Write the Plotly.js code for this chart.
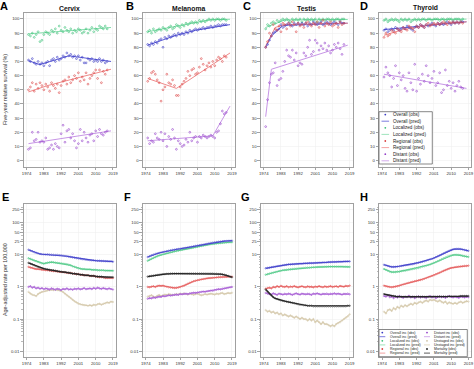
<!DOCTYPE html>
<html><head><meta charset="utf-8">
<script src="https://cdn.plot.ly/plotly-3.0.1.min.js"></script>
<style>html,body{margin:0;padding:0;background:#fff}#chart{width:474px;height:369px}</style>
</head><body><div id="chart"></div>
<script>
const W = 474, H = 369;
function yearRange(a, b) { const r = []; for (let y = a; y <= b; y++) r.push(y); return r; }
const YEARS_SURV = yearRange(1975, 2016);
const YEARS_INC = yearRange(1975, 2019);

const PANEL_TITLES = ['Cervix', 'Melanoma', 'Testis', 'Thyroid'];
const PANEL_LETTERS = ['A', 'B', 'C', 'D', 'E', 'F', 'G', 'H'];
const X_TICKS = [1974, 1983, 1992, 2001, 2010, 2019];
const SURV_TICKS = [0, 10, 20, 30, 40, 50, 60, 70, 80, 90, 100];
const INC_TICKS = [0.01, 0.1, 1, 10, 25, 50, 100, 250];
const INC_TICK_TEXT = ['0.01', '0.1', '1', '10', '25', '50', '100', '250'];
const INC_MINOR = [0.02,0.03,0.04,0.05,0.06,0.07,0.08,0.09,0.2,0.3,0.4,0.5,0.6,0.7,0.8,0.9,2,3,4,5,6,7,8,9,20,30,40,60,70,80,90,200,300];

// ---------- Five-year relative survival (obs 1975-2016) ----------
const cervixLocObs = [89,88,90,87,89,91,84,85,89,91,90,89,92,91,93,90,95,92,91,94,92,91,93,90,92,91,93,92,90,91,93,90,92,94,91,93,92,95,94,93,95,93];
const cervixAllObs = [71,70,72,69,68,70,68,69,67,69,70,67,71,72,70,73,71,72,74,73,76,74,75,73,74,72,74,71,73,69,69,72,71,72,70,71,70,72,70,71,69,70];
const cervixRegObs = [50,52,55,49,54,51,55,53,50,54,52,49,55,53,51,54,48,53,56,57,54,59,55,57,60,58,62,56,59,57,62,54,58,60,62,64,58,64,55,63,61,64];
const cervixDisObs = [8,9,20,14,15,20,13,14,13,16,8,9,11,8,12,10,9,19,25,13,21,22,16,19,14,9,12,22,14,20,16,13,18,19,14,21,17,22,19,18,20,21];
const cervixLocPredX = [1975, 2018], cervixLocPredY = [89.5, 94];
const cervixAllPredX = [1975, 1981, 1996, 2018], cervixAllPredY = [70.5, 67.8, 74, 70];
const cervixRegPredX = [1975, 1985, 2018], cervixRegPredY = [48.5, 53, 64.5];
const cervixDisPredX = [1975, 2018], cervixDisPredY = [12, 21];

const melLocObs = [91,92,90,93,91,92,93,92,94,93,92,94,95,93,94,96,95,94,96,95,97,96,97,98,97,98,97,99,98,99,98,99,100,99,100,99,100,100,99,100,100,99];
const melAllObs = [82,81,83,82,84,83,85,86,80,87,86,88,87,88,89,88,90,89,90,89,91,90,92,91,92,93,92,93,93,94,93,94,94,95,94,95,95,96,95,96,96,96];
const melRegObs = [56,58,62,63,61,57,55,42,50,52,61,55,54,57,53,46,46,52,54,56,58,63,60,64,65,61,62,66,72,68,64,67,69,66,70,67,71,73,72,70,74,73];
const melDisObs = [16,12,14,13,19,16,15,20,14,19,10,17,15,22,16,8,14,12,10,11,15,13,20,14,16,17,13,17,16,18,17,16,17,18,17,16,20,21,26,35,33,34];
const melLocPredX = [1975, 2008, 2018], melLocPredY = [91, 99.5, 99.8];
const melAllPredX = [1975, 1990, 2000, 2018], melAllPredY = [81.5, 88.5, 92, 96];
const melRegPredX = [1975, 1990, 2018], melRegPredY = [58, 51, 76];
const melDisPredX = [1975, 2009, 2018], melDisPredY = [14, 17.5, 38.5];

const testLocObs = [93,96,95,97,98,97,99,98,99,100,99,100,99,98,100,99,100,99,100,98,100,99,100,99,100,99,100,98,100,99,100,99,100,100,99,100,99,100,100,99,100,100];
const testAllObs = [80,82,85,88,90,91,92,93,96,94,95,96,97,96,95,97,96,97,96,97,96,97,95,97,96,98,97,96,97,98,96,97,98,97,96,97,98,97,96,98,97,97];
const testRegObs = [80,84,90,88,96,93,92,95,91,97,96,93,97,95,98,96,91,97,95,96,94,97,98,96,95,97,96,98,94,97,99,95,97,96,98,95,96,97,94,98,96,97];
const testDisObs = [24,43,55,61,62,69,53,57,58,63,70,78,74,73,78,71,76,67,69,68,76,74,80,85,75,77,85,83,78,81,79,83,78,81,76,78,82,80,83,79,75,82];
const testLocPredX = [1975, 1985, 2018], testLocPredY = [94, 99.3, 99.6];
const testAllPredX = [1975, 1978, 1984, 2018], testAllPredY = [80, 88, 95.5, 97];
const testRegPredX = [1975, 1980, 1985, 2018], testRegPredY = [81, 94, 96, 97];
const testDisPredX = [1975, 1978, 2018], testDisPredY = [31, 64.5, 81.5];

const thyLocObs = [99,100,98,99,100,99,100,99,98,100,99,100,99,100,98,99,100,99,100,99,100,100,99,100,100,99,100,100,100,99,100,100,99,100,100,100,99,100,100,100,99,100];
const thyAllObs = [92,93,91,92,93,92,94,93,92,93,94,93,95,94,93,92,94,95,94,96,95,94,96,95,96,97,96,95,97,96,97,96,97,98,97,96,98,97,98,97,98,98];
const thyRegObs = [87,90,88,89,92,91,90,93,92,91,94,93,92,95,94,93,91,95,94,96,95,94,96,97,95,96,97,96,97,96,97,98,97,96,98,97,98,97,98,97,98,97];
const thyDisObs = [59,66,62,60,52,58,67,53,62,57,60,51,49,62,55,50,68,49,58,54,61,56,67,60,55,58,63,53,55,62,48,50,64,53,56,51,55,49,53,56,52,51];
const thyLocPredX = [1975, 2018], thyLocPredY = [99.2, 99.9];
const thyAllPredX = [1975, 2018], thyAllPredY = [92.5, 98];
const thyRegPredX = [1975, 1985, 2000, 2018], thyRegPredY = [88.5, 92.5, 96, 98];
const thyDisPredX = [1975, 2018], thyDisPredY = [61, 51];

// ---------- Age-adjusted rate per 100,000 (1975-2019) ----------
const cervixIncAll = [14.3,13.5,12.8,12.0,11.5,11.0,10.6,10.4,10.3,10.2,10.3,10.1,10.0,9.9,9.8,9.9,9.7,9.6,9.4,9.2,9.0,8.8,8.6,8.3,8.1,7.9,7.7,7.5,7.3,7.2,7.0,6.9,6.8,6.7,6.7,6.6,6.5,6.5,6.4,6.4,6.3,6.3,6.2,6.2,6.1];
const cervixIncLoc = [7.8,7.4,7.0,6.6,6.3,6.0,5.7,5.4,5.3,5.5,5.7,5.8,5.9,5.8,5.7,5.6,5.5,5.4,5.3,5.2,5.1,4.9,4.7,4.4,4.2,4.0,3.8,3.7,3.6,3.6,3.5,3.5,3.5,3.4,3.4,3.4,3.3,3.3,3.3,3.3,3.2,3.2,3.2,3.2,3.2];
const cervixMort = [5.6,5.3,5.0,4.7,4.4,4.2,4.0,3.8,3.7,3.6,3.5,3.4,3.3,3.3,3.2,3.1,3.0,3.0,2.9,2.9,2.8,2.8,2.7,2.6,2.6,2.5,2.5,2.4,2.4,2.3,2.3,2.3,2.2,2.2,2.2,2.1,2.1,2.1,2.1,2.0,2.0,2.0,2.0,2.0,2.0];
const cervixIncReg = [4.2,4.0,3.9,3.7,3.6,3.6,3.5,3.4,3.4,3.3,3.3,3.2,3.2,3.1,3.1,3.0,3.0,2.9,2.9,2.8,2.8,2.7,2.7,2.6,2.6,2.5,2.5,2.4,2.4,2.3,2.3,2.3,2.2,2.2,2.2,2.1,2.1,2.0,2.0,2.0,1.9,1.9,1.9,1.9,1.9];
const cervixIncDis = [1.0,1.05,0.95,1.0,0.9,0.95,0.88,0.92,0.85,0.9,0.87,0.83,0.9,0.86,0.82,0.88,0.85,0.8,0.87,0.84,0.9,0.83,0.86,0.82,0.88,0.85,0.9,0.84,0.87,0.92,0.85,0.88,0.9,0.86,0.93,0.88,0.95,0.9,0.87,0.92,0.88,0.85,0.9,0.86,0.83];
const cervixIncUns = [0.7,0.62,0.57,0.55,0.52,0.6,0.66,0.7,0.72,0.75,0.78,0.8,0.82,0.8,0.83,0.8,0.78,0.75,0.7,0.62,0.55,0.5,0.45,0.4,0.36,0.33,0.3,0.29,0.28,0.27,0.27,0.26,0.27,0.26,0.28,0.27,0.29,0.3,0.28,0.3,0.31,0.33,0.32,0.35,0.34];

const melIncAll = [8.5,9.0,9.6,10.1,10.6,11.0,11.4,11.8,12.2,12.6,13.0,13.4,13.8,14.1,14.4,14.8,15.1,15.4,15.8,16.1,16.5,16.9,17.3,17.8,18.3,18.8,19.3,19.8,20.3,20.8,21.4,22.0,22.6,23.2,23.8,24.3,24.8,25.3,25.7,26.1,26.5,26.8,27.1,27.3,27.5];
const melIncLoc = [6.5,7.0,7.5,8.0,8.5,9.0,9.5,9.9,10.3,10.7,11.1,11.5,11.9,12.3,12.7,13.1,13.5,13.9,14.3,14.7,15.1,15.5,15.9,16.3,16.8,17.3,17.8,18.3,18.8,19.3,19.8,20.3,20.8,21.3,21.7,22.1,22.5,22.9,23.3,23.6,23.9,24.1,24.3,24.5,24.6];
const melMort = [2.1,2.15,2.2,2.25,2.3,2.35,2.4,2.45,2.5,2.5,2.55,2.55,2.6,2.6,2.6,2.6,2.6,2.6,2.6,2.6,2.6,2.6,2.6,2.6,2.6,2.6,2.6,2.6,2.6,2.6,2.6,2.6,2.6,2.6,2.6,2.55,2.55,2.5,2.5,2.45,2.4,2.3,2.2,2.1,2.0];
const melIncReg = [1.0,0.98,1.02,1.05,1.0,1.07,1.1,1.08,1.1,1.05,1.02,0.98,0.96,0.94,0.93,0.94,0.96,1.0,1.05,1.1,1.18,1.26,1.34,1.42,1.5,1.56,1.62,1.67,1.72,1.76,1.8,1.84,1.88,1.9,1.93,1.95,1.97,2.0,2.02,2.04,2.05,2.06,2.08,2.1,2.1];
const melIncDis = [0.43,0.45,0.44,0.47,0.46,0.48,0.5,0.49,0.52,0.51,0.53,0.55,0.54,0.56,0.57,0.58,0.57,0.6,0.59,0.61,0.62,0.6,0.63,0.64,0.66,0.65,0.67,0.68,0.7,0.72,0.71,0.73,0.75,0.77,0.76,0.8,0.82,0.85,0.84,0.88,0.9,0.92,0.95,0.97,1.0];
const melIncUns = [0.5,0.52,0.55,0.5,0.48,0.53,0.56,0.52,0.55,0.58,0.56,0.6,0.58,0.55,0.57,0.6,0.58,0.62,0.6,0.63,0.6,0.58,0.62,0.6,0.57,0.6,0.62,0.58,0.55,0.57,0.6,0.58,0.6,0.62,0.6,0.58,0.62,0.6,0.63,0.65,0.6,0.62,0.65,0.63,0.66];

const testIncAll = [3.8,3.9,4.0,4.1,4.2,4.3,4.4,4.5,4.6,4.7,4.8,4.9,5.0,5.0,5.1,5.1,5.2,5.2,5.3,5.3,5.4,5.4,5.4,5.5,5.5,5.5,5.6,5.6,5.7,5.7,5.8,5.8,5.8,5.9,5.9,6.0,6.0,6.0,6.1,6.1,6.1,6.2,6.2,6.2,6.2];
const testIncLoc = [2.4,2.5,2.6,2.7,2.8,2.9,3.0,3.1,3.2,3.3,3.35,3.4,3.5,3.55,3.6,3.65,3.7,3.75,3.8,3.85,3.9,3.95,4.0,4.0,4.05,4.1,4.1,4.15,4.2,4.2,4.2,4.25,4.25,4.3,4.3,4.3,4.3,4.3,4.3,4.3,4.3,4.25,4.25,4.2,4.2];
const testIncReg = [0.88,0.92,0.95,0.9,1.0,0.97,1.05,1.0,1.08,1.02,1.0,1.05,0.98,1.03,1.0,1.06,1.0,0.97,1.02,1.05,1.0,0.98,1.04,1.0,1.02,0.97,1.03,1.0,1.05,1.01,0.98,1.04,1.0,1.02,1.06,1.0,1.03,1.05,1.0,1.07,1.04,1.02,1.08,1.05,1.1];
const testIncDis = [0.65,0.62,0.6,0.58,0.63,0.6,0.57,0.62,0.6,0.58,0.61,0.59,0.62,0.6,0.57,0.6,0.63,0.6,0.58,0.62,0.6,0.59,0.61,0.6,0.57,0.62,0.6,0.63,0.6,0.58,0.61,0.6,0.62,0.59,0.61,0.6,0.63,0.6,0.62,0.6,0.58,0.61,0.6,0.62,0.59];
const testMort = [0.83,0.72,0.62,0.54,0.48,0.44,0.42,0.4,0.38,0.37,0.36,0.35,0.34,0.33,0.32,0.31,0.3,0.29,0.28,0.28,0.27,0.27,0.26,0.26,0.26,0.25,0.25,0.25,0.25,0.25,0.25,0.25,0.25,0.25,0.25,0.25,0.25,0.25,0.25,0.25,0.25,0.25,0.25,0.26,0.26];
const testIncUns = [0.19,0.17,0.18,0.16,0.17,0.15,0.16,0.14,0.15,0.13,0.14,0.13,0.12,0.13,0.12,0.11,0.12,0.11,0.1,0.11,0.1,0.1,0.09,0.1,0.09,0.1,0.08,0.09,0.08,0.07,0.08,0.07,0.07,0.065,0.06,0.065,0.06,0.07,0.075,0.08,0.09,0.1,0.11,0.12,0.14];

const thyIncAll = [4.9,4.7,4.5,4.3,4.2,4.2,4.2,4.3,4.4,4.5,4.6,4.7,4.8,4.9,5.0,5.1,5.3,5.5,5.7,5.9,6.1,6.3,6.6,6.9,7.2,7.5,7.9,8.4,8.9,9.5,10.2,11.0,11.8,12.6,13.4,14.1,14.7,15.1,15.3,15.3,15.0,14.6,14.1,13.7,13.3];
const thyIncLoc = [3.6,3.4,3.2,3.0,2.9,2.9,2.9,3.0,3.0,3.1,3.2,3.2,3.3,3.4,3.5,3.6,3.7,3.8,3.9,4.1,4.3,4.4,4.6,4.8,5.0,5.3,5.6,5.9,6.3,6.7,7.2,7.7,8.2,8.7,9.1,9.5,9.8,10.0,10.0,9.9,9.6,9.3,9.0,8.8,8.6];
const thyIncReg = [1.1,1.05,1.02,1.0,0.98,1.0,1.02,1.05,1.1,1.15,1.2,1.25,1.3,1.35,1.4,1.45,1.5,1.55,1.6,1.65,1.7,1.8,1.9,2.0,2.1,2.2,2.3,2.45,2.6,2.75,2.95,3.15,3.35,3.55,3.75,3.9,4.0,4.1,4.2,4.3,4.35,4.4,4.5,4.5,4.6];
const thyIncDis = [0.52,0.5,0.55,0.48,0.5,0.45,0.5,0.47,0.52,0.49,0.46,0.5,0.48,0.53,0.47,0.5,0.45,0.49,0.51,0.47,0.5,0.48,0.46,0.5,0.52,0.47,0.5,0.45,0.49,0.51,0.48,0.5,0.46,0.5,0.52,0.49,0.47,0.5,0.48,0.46,0.5,0.49,0.47,0.5,0.48];
const thyMort = [0.6,0.58,0.56,0.55,0.53,0.52,0.51,0.5,0.5,0.49,0.49,0.49,0.49,0.49,0.49,0.49,0.49,0.49,0.49,0.49,0.49,0.49,0.49,0.49,0.49,0.5,0.5,0.5,0.5,0.5,0.5,0.5,0.5,0.5,0.51,0.51,0.51,0.51,0.51,0.51,0.52,0.52,0.52,0.52,0.52];
const thyIncUns = [0.17,0.15,0.19,0.2,0.18,0.22,0.2,0.24,0.22,0.26,0.24,0.27,0.25,0.28,0.3,0.28,0.32,0.3,0.33,0.35,0.32,0.36,0.38,0.35,0.4,0.38,0.4,0.37,0.35,0.38,0.34,0.32,0.35,0.3,0.33,0.31,0.3,0.32,0.3,0.33,0.35,0.32,0.34,0.36,0.35];

// ---------- styling ----------
const PT = { overall:'#3a3ac4', localized:'#36bf74', regional:'#dc4444', distant:'#9440c9', unstaged:'#cfc2a4', mortality:'#1c1c1c' };
const LN = { overall:'#5a5ad6', localized:'#86ddac', regional:'#f08a8a', distant:'#c795e6', unstaged:'#ded3b9', mortality:'#333' };
const FONT = 'Liberation Sans, Arial, sans-serif';

const COLS = [[23.5,116],[142.7,235],[260.7,352.7],[379,471.5]];
const ROWS = [[13.3,167],[204.3,356.7]];

const SURV = [
  [['localized',cervixLocObs,cervixLocPredX,cervixLocPredY],['overall',cervixAllObs,cervixAllPredX,cervixAllPredY],['regional',cervixRegObs,cervixRegPredX,cervixRegPredY],['distant',cervixDisObs,cervixDisPredX,cervixDisPredY]],
  [['localized',melLocObs,melLocPredX,melLocPredY],['overall',melAllObs,melAllPredX,melAllPredY],['regional',melRegObs,melRegPredX,melRegPredY],['distant',melDisObs,melDisPredX,melDisPredY]],
  [['localized',testLocObs,testLocPredX,testLocPredY],['overall',testAllObs,testAllPredX,testAllPredY],['regional',testRegObs,testRegPredX,testRegPredY],['distant',testDisObs,testDisPredX,testDisPredY]],
  [['localized',thyLocObs,thyLocPredX,thyLocPredY],['overall',thyAllObs,thyAllPredX,thyAllPredY],['regional',thyRegObs,thyRegPredX,thyRegPredY],['distant',thyDisObs,thyDisPredX,thyDisPredY]]
];
const INC = [
  [['unstaged',cervixIncUns],['distant',cervixIncDis],['regional',cervixIncReg],['mortality',cervixMort],['localized',cervixIncLoc],['overall',cervixIncAll]],
  [['unstaged',melIncUns],['distant',melIncDis],['regional',melIncReg],['mortality',melMort],['localized',melIncLoc],['overall',melIncAll]],
  [['unstaged',testIncUns],['distant',testIncDis],['regional',testIncReg],['mortality',testMort],['localized',testIncLoc],['overall',testIncAll]],
  [['unstaged',thyIncUns],['distant',thyIncDis],['regional',thyIncReg],['mortality',thyMort],['localized',thyIncLoc],['overall',thyIncAll]]
];

const traces = [];
function axId(i) { return i === 0 ? '' : String(i + 1); }
SURV.forEach((panel, p) => {
  const a = axId(p);
  panel.forEach(([k, obs, px, py]) => {
    traces.push({ type:'scatter', mode:'lines', x:px, y:py, xaxis:'x'+a, yaxis:'y'+a,
      line:{ color:LN[k], width:1 }, hoverinfo:'skip', showlegend:false });
  });
  panel.forEach(([k, obs]) => {
    traces.push({ type:'scatter', mode:'markers', x:YEARS_SURV.slice(0, obs.length), y:obs, xaxis:'x'+a, yaxis:'y'+a,
      marker:{ color:PT[k], size:1.8, symbol:'circle-open', line:{ color:PT[k], width:0.6 } }, hoverinfo:'skip', showlegend:false });
  });
});
INC.forEach((panel, p) => {
  const a = axId(p + 4);
  panel.forEach(([k, vals]) => {
    traces.push({ type:'scatter', mode:'lines', x:YEARS_INC.slice(0, vals.length), y:vals, xaxis:'x'+a, yaxis:'y'+a,
      line:{ color:LN[k], width:1.2 }, hoverinfo:'skip', showlegend:false });
    traces.push({ type:'scatter', mode:'markers', x:YEARS_INC.slice(0, vals.length), y:vals, xaxis:'x'+a, yaxis:'y'+a,
      marker:{ color:PT[k], size:1.5, symbol:'circle-open', line:{ color:PT[k], width:0.5 } }, hoverinfo:'skip', showlegend:false });
  });
});

const layout = {
  width:W, height:H, margin:{l:0,r:0,t:0,b:0}, paper_bgcolor:'#fff', plot_bgcolor:'#fff',
  font:{ family:FONT, color:'#333', size:4.5 }, showlegend:false,
  annotations:[], shapes:[]
};
const tickFont = { family:FONT, size:4.3, color:'#333' };
for (let i = 0; i < 8; i++) {
  const c = i % 4, r = Math.floor(i / 4), a = axId(i);
  layout['xaxis'+a] = {
    domain:[COLS[c][0]/W, COLS[c][1]/W], anchor:'y'+a, range:[1972.4, 2020.6],
    tickmode:'array', tickvals:X_TICKS, ticktext:X_TICKS.map(String), tickfont:tickFont,
    ticks:'outside', ticklen:2.5, tickwidth:0.6, tickcolor:'#666',
    showline:true, mirror:true, linecolor:'#888', linewidth:0.8,
    showgrid:true, gridcolor:'#f0f0f0', gridwidth:0.6, zeroline:false, fixedrange:true
  };
  const y = {
    domain:[1 - ROWS[r][1]/H, 1 - ROWS[r][0]/H], anchor:'x'+a,
    tickfont:tickFont, ticks:'outside', ticklen:2.5, tickwidth:0.6, tickcolor:'#666',
    showline:true, mirror:true, linecolor:'#888', linewidth:0.8,
    showgrid:true, gridcolor:'#f0f0f0', gridwidth:0.6, zeroline:false, fixedrange:true
  };
  if (r === 0) {
    Object.assign(y, { range:[-4.5, 104], tickmode:'array', tickvals:SURV_TICKS, ticktext:SURV_TICKS.map(String) });
  } else {
    Object.assign(y, { type:'log', range:[-2.17, 2.57], tickmode:'array', tickvals:INC_TICKS, ticktext:INC_TICK_TEXT,
      minor:{ tickmode:'array', tickvals:INC_MINOR, ticks:'outside', ticklen:1.4, tickcolor:'#777', tickwidth:0.5, showgrid:false } });
  }
  layout['yaxis'+a] = y;
}

function pxX(px) { return px / W; }
function pxY(py) { return 1 - py / H; }
function note(text, px, py, size, opts) {
  layout.annotations.push(Object.assign({ text, x:pxX(px), y:pxY(py), xref:'paper', yref:'paper',
    showarrow:false, font:{ family:FONT, size, color:'#111' }, xanchor:'center', yanchor:'middle' }, opts || {}));
}
PANEL_TITLES.forEach((t, i) => note('<b>' + t + '</b>', (COLS[i][0] + COLS[i][1]) / 2, 8, 6.8));
const LETTER_POS = [[4,6],[130,6],[247,6],[364,6],[5,197],[127,197],[245,197],[364,197]];
PANEL_LETTERS.forEach((t, i) => note('<b>' + t + '</b>', LETTER_POS[i][0], LETTER_POS[i][1], 11, { font:{ family:FONT, size:11, color:'#000' } }));
note('Five-year relative survival (%)', 5, 90, 5.4, { textangle:-90, font:{ family:FONT, size:5.4, color:'#333' } });
note('Age-adjusted rate per 100,000', 5, 280, 5.4, { textangle:-90, font:{ family:FONT, size:5.4, color:'#333' } });

// ---------- legends ----------
const LEG_D = [['Overall (obs)','overall','obs'],['Overall (pred)','overall','pred'],['Localized (obs)','localized','obs'],['Localized (pred)','localized','pred'],
  ['Regional (obs)','regional','obs'],['Regional (pred)','regional','pred'],['Distant (obs)','distant','obs'],['Distant (pred)','distant','pred']];
const LEG_H = [['Overall inc (obs)','overall','obs'],['Overall inc (pred)','overall','pred'],['Localized inc (obs)','localized','obs'],['Localized inc (pred)','localized','pred'],
  ['Regional inc (obs)','regional','obs'],['Regional inc (pred)','regional','pred'],['Distant inc (obs)','distant','obs'],['Distant inc (pred)','distant','pred'],
  ['Unstaged inc (obs)','unstaged','obs'],['Unstaged inc (pred)','unstaged','pred'],['Mortality (obs)','mortality','obs'],['Mortality (pred)','mortality','pred']];

function legendBox(x0, y0, x1, y1) {
  layout.shapes.push({ type:'rect', xref:'paper', yref:'paper', x0:pxX(x0), x1:pxX(x1), y0:pxY(y1), y1:pxY(y0),
    line:{ color:'#555', width:0.7 }, fillcolor:'#fff', layer:'above' });
}
function legendItem(item, sx, py, tx, fs, half) {
  const [label, k, kind] = item;
  if (kind === 'obs') {
    const r = 0.9;
    layout.shapes.push({ type:'circle', xref:'paper', yref:'paper', x0:pxX(sx - r), x1:pxX(sx + r), y0:pxY(py + r), y1:pxY(py - r),
      line:{ width:0 }, fillcolor:PT[k], layer:'above' });
  } else {
    layout.shapes.push({ type:'line', xref:'paper', yref:'paper', x0:pxX(sx - half), x1:pxX(sx + half), y0:pxY(py), y1:pxY(py),
      line:{ color:LN[k], width:0.8 }, layer:'above' });
  }
  note(label, tx, py, fs, { xanchor:'left', font:{ family:FONT, size:fs, color:'#222' } });
}
legendBox(379, 111.7, 432.3, 164);
LEG_D.forEach((it, i) => legendItem(it, 385.3, 114.6 + i * 6.6, 390.5, 4.6, 3.8));
legendBox(379, 329.5, 467.3, 356.7);
LEG_H.forEach((it, i) => {
  const col = Math.floor(i / 6), row = i % 6;
  legendItem(it, col ? 427 : 382.3, 332.6 + row * 4.1, col ? 432.3 : 387.6, 3.5, 3);
});

Plotly.newPlot('chart', traces, layout, { staticPlot:true, displayModeBar:false });
</script></body></html>
